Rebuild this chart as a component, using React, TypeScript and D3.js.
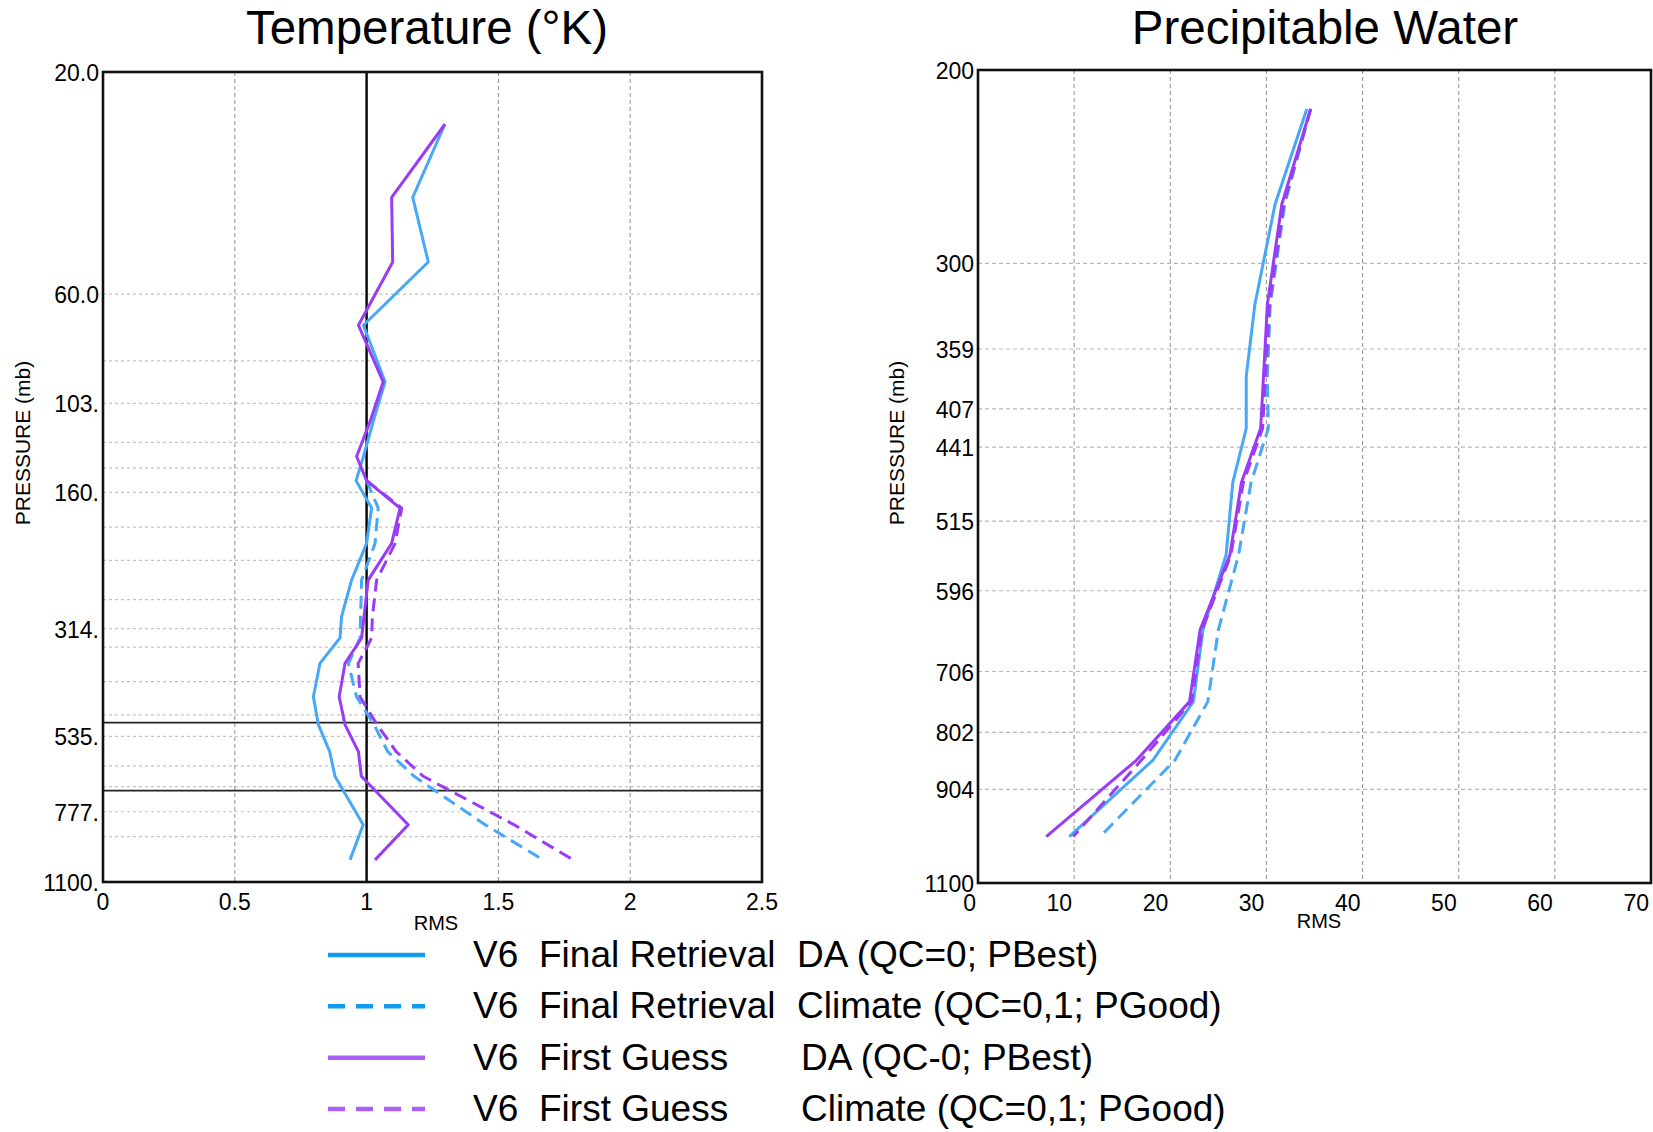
import React from 'react'
import * as d3 from 'd3'

// ---- Temperature panel (RMS vs pressure, mb) ----
const tempLevels = [25.9, 37.2, 51.2, 70, 92.6, 112.8, 134, 151, 173, 206, 247, 296, 329, 373, 440, 505, 577, 652, 829, 986]
const tempFinalDA = [1.297, 1.175, 1.234, 0.988, 1.07, 1.025, 0.988, 0.96, 1.019, 1.0, 0.943, 0.905, 0.899, 0.823, 0.798, 0.817, 0.86, 0.88, 0.987, 0.937]
const tempFinalClim = [null, null, null, null, null, null, null, 1.0, 1.044, 1.032, 0.981, 0.977, 0.975, 0.931, 0.962, 1.028, 1.08, 1.18, 1.45, 1.67]
const tempFirstDA = [1.297, 1.095, 1.099, 0.969, 1.063, 1.013, 0.962, 1.0, 1.127, 1.095, 1.006, 0.99, 0.981, 0.918, 0.896, 0.918, 0.969, 0.98, 1.158, 1.032]
const tempFirstClim = [null, null, null, null, null, null, null, 1.0, 1.133, 1.108, 1.038, 1.022, 1.019, 0.968, 0.975, 1.04, 1.112, 1.215, 1.56, 1.784]
const tempYTicks = [20, 60, 103, 160, 314, 535, 777, 1100]
const tempYLabels = ['20.0', '60.0', '103.', '160.', '314.', '535.', '777.', '1100.']
const tempGrid = [60, 83.5, 103, 125, 142, 160, 190, 224, 272, 314, 344, 408, 481, 535, 619, 686, 777, 879]
const tempXTicks = [0, 0.5, 1, 1.5, 2, 2.5]
const tempRefLines = [500, 700]

// ---- Precipitable water panel ----
const pwLevels = [217, 265, 327, 380, 424, 475, 553, 647, 752, 850, 998]
const pwFinalDA = [34.2, 30.9, 28.8, 27.9, 27.9, 26.5, 25.8, 23.4, 22.4, 18.2, 9.5]
const pwFinalClim = [34.6, 31.9, 30.4, 30.1, 30.2, 28.4, 27.1, 25.0, 23.9, 20.5, 12.7]
const pwFirstDA = [34.6, 31.6, 30.1, 29.7, 29.4, 27.4, 26.2, 23.1, 22.0, 16.5, 7.1]
const pwFirstClim = [34.6, 31.8, 30.3, 29.9, 29.6, 27.6, 26.3, 23.3, 22.2, 17.0, 9.9]
const pwYTicks = [200, 300, 359, 407, 441, 515, 596, 706, 802, 904, 1100]
const pwXTicks = [0, 10, 20, 30, 40, 50, 60, 70]

// ---- legend ----
const legendVersion = ['V6', 'V6', 'V6', 'V6']
const legendSource = ['Final Retrieval', 'Final Retrieval', 'First Guess', 'First Guess']
const legendMode = ['DA (QC=0; PBest)', 'Climate (QC=0,1; PGood)', 'DA (QC-0; PBest)', 'Climate (QC=0,1; PGood)']

const BLUE = '#47a8f7'
const PURPLE = '#9a3cf6'
const LEG_BLUE = '#129bf0'
const LEG_PURPLE = '#ac5ff8'
const FONT = 'Liberation Sans, Arial, Helvetica, sans-serif'

type Series = { values: (number | null)[]; color: string; dashed: boolean }

type PanelProps = {
  left: number
  right: number
  top: number
  bottom: number
  xDomain: [number, number]
  yDomain: [number, number]
  levels: number[]
  series: Series[]
  xTicks: number[]
  xAnchor: 'middle' | 'end'
  yTicks: number[]
  yLabels: string[]
  hGrid: number[]
  vGrid: number[]
  hDash: string
  hColor: string
  refX?: number
  refP?: number[]
}

function Panel(p: PanelProps) {
  const x = d3.scaleLinear().domain(p.xDomain).range([p.left, p.right])
  const y = d3.scaleLog().domain(p.yDomain).range([p.top, p.bottom])
  const line = d3
    .line<[number, number | null]>()
    .defined(d => d[1] != null)
    .x(d => x(d[1] as number))
    .y(d => y(d[0]))

  return (
    <g fontFamily={FONT}>
      {p.hGrid.map(v => (
        <line key={'h' + v} x1={p.left} x2={p.right} y1={y(v)} y2={y(v)}
          stroke={p.hColor} strokeWidth={1.2} strokeDasharray={p.hDash} />
      ))}
      {p.vGrid.map(v => (
        <line key={'v' + v} x1={x(v)} x2={x(v)} y1={p.top} y2={p.bottom}
          stroke="#999" strokeWidth={1.1} strokeDasharray="4,3" />
      ))}
      {p.refX != null && (
        <line x1={x(p.refX)} x2={x(p.refX)} y1={p.top} y2={p.bottom} stroke="#000" strokeWidth={2.4} />
      )}
      {(p.refP || []).map(v => (
        <line key={'r' + v} x1={p.left} x2={p.right} y1={y(v)} y2={y(v)} stroke="#222" strokeWidth={1.8} />
      ))}
      {p.series.map((s, i) => (
        <path key={i}
          d={line(p.levels.map((lv, j) => [lv, s.values[j]] as [number, number | null])) || ''}
          fill="none" stroke={s.color} strokeWidth={3}
          strokeDasharray={s.dashed ? '13,7' : undefined}
          strokeLinejoin="round" />
      ))}
      <rect x={p.left} y={p.top} width={p.right - p.left} height={p.bottom - p.top}
        fill="none" stroke="#111" strokeWidth={2.6} />
      {p.yTicks.map((v, i) => (
        <text key={'yl' + v} x={p.left - 4} y={y(v) + 1} textAnchor="end"
          dominantBaseline="central" fontSize={23}>{p.yLabels[i]}</text>
      ))}
      {p.xTicks.map(v => (
        <text key={'xl' + v} x={p.xAnchor === 'end' ? x(v) - 2 : x(v)} y={p.bottom + 28}
          textAnchor={p.xAnchor} fontSize={23}>{String(v)}</text>
      ))}
    </g>
  )
}

export default function App() {
  const legendColors = [LEG_BLUE, LEG_BLUE, LEG_PURPLE, LEG_PURPLE]
  const legendDashed = [false, true, false, true]
  const legendY = d3.scaleLinear().domain([0, 3]).range([955, 1109])
  const modeX = [797, 797, 801, 801]

  return (
    <svg width={1653} height={1132} style={{ position: 'absolute', left: 0, top: 0, background: '#fff' }}>
      <rect width={1653} height={1132} fill="#fff" />
      <text x={427} y={44} textAnchor="middle" fontFamily={FONT} fontSize={47.5}>Temperature (°K)</text>
      <text x={1325} y={44} textAnchor="middle" fontFamily={FONT} fontSize={47.5}>Precipitable Water</text>

      <Panel left={103} right={762} top={72} bottom={882}
        xDomain={[0, 2.5]} yDomain={[20, 1100]} levels={tempLevels}
        series={[
          { values: tempFinalClim, color: BLUE, dashed: true },
          { values: tempFinalDA, color: BLUE, dashed: false },
          { values: tempFirstDA, color: PURPLE, dashed: false },
          { values: tempFirstClim, color: PURPLE, dashed: true },
        ]}
        xTicks={tempXTicks} xAnchor="middle"
        yTicks={tempYTicks} yLabels={tempYLabels}
        hGrid={tempGrid} vGrid={[0.5, 1.5, 2]} hDash="3,3" hColor="#c4c4c4"
        refX={1} refP={tempRefLines} />

      <Panel left={978} right={1651} top={70} bottom={883}
        xDomain={[0, 70]} yDomain={[200, 1100]} levels={pwLevels}
        series={[
          { values: pwFinalClim, color: BLUE, dashed: true },
          { values: pwFinalDA, color: BLUE, dashed: false },
          { values: pwFirstDA, color: PURPLE, dashed: false },
          { values: pwFirstClim, color: PURPLE, dashed: true },
        ]}
        xTicks={pwXTicks} xAnchor="end"
        yTicks={pwYTicks} yLabels={pwYTicks.map(String)}
        hGrid={pwYTicks.slice(1, -1)} vGrid={[10, 20, 30, 40, 50, 60]} hDash="4,3" hColor="#b8b8b8" />

      <g fontFamily={FONT} fontSize={20}>
        <text x={436} y={930} textAnchor="middle">RMS</text>
        <text x={1319} y={928} textAnchor="middle">RMS</text>
        <text transform="translate(30,443) rotate(-90)" textAnchor="middle" fontSize={21}>PRESSURE (mb)</text>
        <text transform="translate(904,443) rotate(-90)" textAnchor="middle" fontSize={21}>PRESSURE (mb)</text>
      </g>

      <g fontFamily={FONT} fontSize={37}>
        {legendSource.map((src, i) => (
          <g key={i}>
            <line x1={328} x2={425} y1={legendY(i)} y2={legendY(i)} stroke={legendColors[i]}
              strokeWidth={4.5} strokeDasharray={legendDashed[i] ? '17,11' : undefined} />
            <text x={473} y={legendY(i) + 12}>{legendVersion[i]}</text>
            <text x={539} y={legendY(i) + 12}>{src}</text>
            <text x={modeX[i]} y={legendY(i) + 12}>{legendMode[i]}</text>
          </g>
        ))}
      </g>
    </svg>
  )
}
